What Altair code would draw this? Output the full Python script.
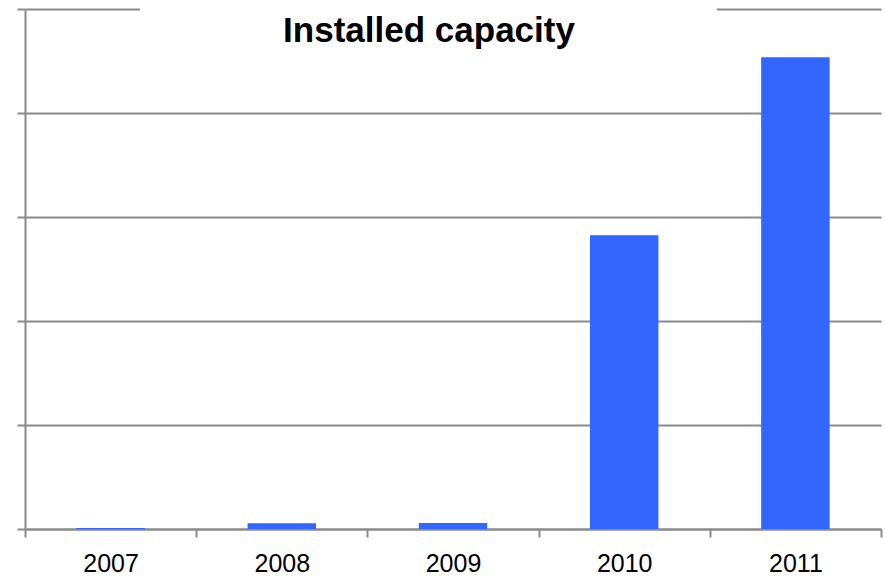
import altair as alt
import pandas as pd

# Installed capacity per year
years = ["2007", "2008", "2009", "2010", "2011"]
capacity = [1, 5.5, 5.8, 282.5, 453.5]
y_ticks = [0, 100, 200, 300, 400, 500]
chart_title = ["Installed capacity"]

df = pd.DataFrame({"year": years, "capacity": capacity})

GRAY = "#8a8a8a"
FONT = "Liberation Sans"

bars = alt.Chart(df).mark_bar(
    color="#3366FF", width=alt.RelativeBandSize(0.4)
).encode(
    x=alt.X(
        "year:N",
        sort=years,
        scale=alt.Scale(paddingInner=0, paddingOuter=0),
        axis=alt.Axis(
            title=None,
            labelAngle=0,
            tickBand="extent",
            grid=False,
            domainColor=GRAY,
            domainWidth=2,
            tickColor=GRAY,
            tickWidth=2,
            tickSize=8,
            labelFont=FONT,
            labelFontSize=25,
            labelColor="#000000",
            labelPadding=14,
        ),
    ),
    y=alt.Y(
        "capacity:Q",
        scale=alt.Scale(domain=[0, 500], nice=False),
        axis=alt.Axis(
            title=None,
            values=y_ticks,
            labels=False,
            grid=True,
            gridColor=GRAY,
            gridWidth=2,
            gridOpacity=1,
            domainColor=GRAY,
            domainWidth=2,
            tickColor=GRAY,
            tickWidth=2,
            tickSize=8,
        ),
    ),
)

# white band behind the title, breaking the top gridline
title_box = alt.Chart(pd.DataFrame({"k": [0]})).mark_rect(color="white").encode(
    x=alt.value(115), x2=alt.value(692), y=alt.value(-4), y2=alt.value(4)
)

title_text = alt.Chart(pd.DataFrame({"t": chart_title})).mark_text(
    font=FONT,
    fontSize=35,
    fontWeight="bold",
    color="#000000",
    align="center",
    baseline="alphabetic",
).encode(x=alt.value(404), y=alt.value(33), text="t:N")

chart = alt.layer(bars, title_box, title_text).properties(
    width=856,
    height=520,
    padding={"left": 25, "top": 9, "right": 4, "bottom": 47},
    autosize=alt.AutoSizeParams(type="none"),
).configure_view(stroke=None)

chart.save("out.html", embed_options={"renderer": "svg", "actions": False})
